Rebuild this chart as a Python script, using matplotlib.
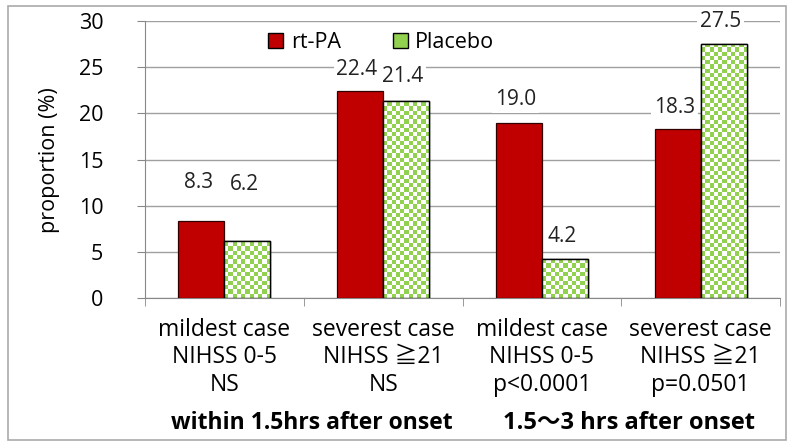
import numpy as np
import matplotlib
matplotlib.use("Agg")
import matplotlib.pyplot as plt
from matplotlib.patches import Rectangle, Patch

plt.rcParams['font.family'] = ['Open Sans', 'Noto Sans CJK JP', 'DejaVu Sans']

# data
categories = ["mildest case\nNIHSS 0-5\nNS",
              "severest case\nNIHSS \u226721\nNS",
              "mildest case\nNIHSS 0-5\np<0.0001",
              "severest case\nNIHSS \u226721\np=0.0501"]
rtpa = [8.3, 22.4, 19.0, 18.3]
placebo = [6.2, 21.4, 4.2, 27.5]
periods = ["within 1.5hrs after onset", "1.5\uff5e3 hrs after onset"]

red = "#C00000"
green = "#92D050"

fig = plt.figure(figsize=(7.88, 4.41), dpi=100)
ax = fig.add_axes([0.184, 0.324, 0.806, 0.628])

x = np.arange(len(categories))
w = 0.29
b1 = ax.bar(x - w / 2, rtpa, w, color=red, edgecolor="#300000", linewidth=0.9, zorder=3)
b2 = ax.bar(x + w / 2, placebo, w, color="white", edgecolor="black", linewidth=1.0, zorder=3)

ax.set_xlim(-0.5, 3.5)
ax.set_ylim(0, 30)

# checker fill for placebo bars
for bar in b2:
    x0 = bar.get_x()
    x1 = x0 + bar.get_width()
    h = bar.get_height()
    nx = 11
    ny = max(1, int(round(h / 0.46)))
    yy, xx = np.indices((ny, nx))
    chk = ((xx + yy) % 2).astype(float)
    img = ax.imshow(chk, extent=(x0, x1, 0, ny * 0.46), origin="lower",
                    cmap=matplotlib.colors.ListedColormap([green, "white"]),
                    aspect="auto", interpolation="nearest", zorder=3.5)
    img.set_clip_path(bar)
    ax.add_patch(Rectangle((x0, 0), bar.get_width(), h, fill=False,
                           edgecolor="black", linewidth=1.0, zorder=4))

ax.set_xlim(-0.5, 3.5)
ax.set_ylim(0, 30)

# value labels
off_r = [4.2, 2.4, 2.5, 2.3]
off_p = [6.1, 2.6, 2.5, 2.5]
for i in range(len(categories)):
    ax.text(x[i] - w / 2 - 0.02, rtpa[i] + off_r[i], f"{rtpa[i]:.1f}", ha="center", va="center",
            fontsize=15, color="#222222", zorder=5,
            bbox=dict(facecolor="white", edgecolor="none", pad=2))
    ax.text(x[i] + w / 2 - 0.02, placebo[i] + off_p[i], f"{placebo[i]:.1f}", ha="center", va="center",
            fontsize=15, color="#222222", zorder=5,
            bbox=dict(facecolor="white", edgecolor="none", pad=2))

ax.set_yticks(range(0, 31, 5))
ax.tick_params(axis="y", labelsize=15.5, length=6, color="#888888", pad=24)
ax.yaxis.grid(True, color="#A0A0A0", linewidth=1.0, zorder=0)
ax.set_axisbelow(True)
for s in ["top", "right"]:
    ax.spines[s].set_visible(False)
ax.spines["left"].set_color("#888888")
ax.spines["bottom"].set_color("#888888")

ax.set_xticks(x)
ax.set_xticklabels(categories, fontsize=16.5, linespacing=1.2)
ax.tick_params(axis="x", length=0, pad=14)
ax.set_xticks(np.arange(-0.5, 4.0, 1.0), minor=True)
ax.tick_params(axis="x", which="minor", length=6, color="#888888")

ax.set_ylabel("proportion (%)", fontsize=15.5)
ax.yaxis.set_label_coords(-0.134, 0.5)

# period labels
ax.text(0.55, -0.45, periods[0], transform=ax.get_xaxis_transform(), ha="center", va="center",
        fontsize=16.5, fontweight="bold")
ax.text(2.55, -0.45, periods[1], transform=ax.get_xaxis_transform(), ha="center", va="center",
        fontsize=17, fontweight="bold")

handles = [Patch(facecolor=red, edgecolor="black", label="rt-PA"),
           Patch(facecolor=green, edgecolor="black", label="Placebo")]
ax.legend(handles=handles, loc="upper center", bbox_to_anchor=(0.372, 1.03), ncol=2,
          frameon=False, fontsize=15.5, handlelength=0.7, handleheight=0.7,
          columnspacing=2.4, handletextpad=0.35)

fig.patches.append(Rectangle((8 / 788, 1 / 441), 778 / 788, 434 / 441, transform=fig.transFigure,
                             fill=False, edgecolor="#AAAAAA", linewidth=1.2))

fig.savefig("out.png", dpi=100)
